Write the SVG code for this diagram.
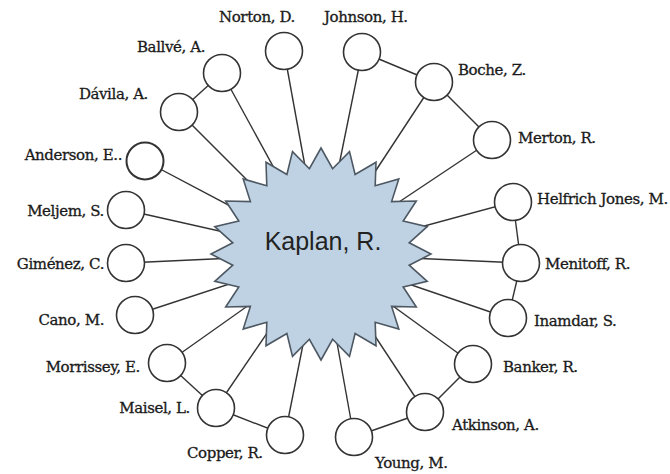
<svg xmlns="http://www.w3.org/2000/svg" width="670" height="474" viewBox="0 0 670 474">
<style>
.ln{stroke:#333333;stroke-width:1.4;fill:none}
.nd{fill:#ffffff;stroke:#333333;stroke-width:1.6}
.star{fill:#bfd2e3;stroke:#4d5863;stroke-width:1.6;stroke-linejoin:miter}
.lb{font-family:"DejaVu Serif","Liberation Serif",serif;font-size:15px;fill:#1a1a1a;stroke:#1a1a1a;stroke-width:0.3px;letter-spacing:-0.4px}
.e{text-anchor:end}
.ct{font-family:"Liberation Sans","DejaVu Sans",sans-serif;font-size:25px;fill:#222222;text-anchor:middle}
</style>
<rect x="0" y="0" width="670" height="474" fill="#ffffff"/>
<g id="connectors">
<line class="ln" x1="284" y1="51" x2="321" y2="254"/>
<line class="ln" x1="362" y1="52" x2="321" y2="254"/>
<line class="ln" x1="434" y1="82" x2="321" y2="254"/>
<line class="ln" x1="492" y1="140" x2="321" y2="254"/>
<line class="ln" x1="513" y1="202" x2="321" y2="254"/>
<line class="ln" x1="521" y1="263" x2="321" y2="254"/>
<line class="ln" x1="508" y1="318" x2="321" y2="254"/>
<line class="ln" x1="473" y1="364" x2="321" y2="254"/>
<line class="ln" x1="425" y1="412" x2="321" y2="254"/>
<line class="ln" x1="354" y1="437" x2="321" y2="254"/>
<line class="ln" x1="285" y1="435" x2="321" y2="254"/>
<line class="ln" x1="216" y1="408" x2="321" y2="254"/>
<line class="ln" x1="167" y1="363" x2="321" y2="254"/>
<line class="ln" x1="135" y1="315" x2="321" y2="254"/>
<line class="ln" x1="126" y1="263" x2="321" y2="254"/>
<line class="ln" x1="126" y1="210" x2="321" y2="254"/>
<line class="ln" x1="145" y1="161" x2="321" y2="254"/>
<line class="ln" x1="179" y1="112" x2="321" y2="254"/>
<line class="ln" x1="222" y1="73" x2="321" y2="254"/>
<line class="ln" x1="222" y1="73" x2="179" y2="112"/>
<line class="ln" x1="362" y1="52" x2="434" y2="82"/>
<line class="ln" x1="434" y1="82" x2="492" y2="140"/>
<line class="ln" x1="513" y1="202" x2="521" y2="263"/>
<line class="ln" x1="521" y1="263" x2="508" y2="318"/>
<line class="ln" x1="167" y1="363" x2="216" y2="408"/>
<line class="ln" x1="216" y1="408" x2="285" y2="435"/>
<line class="ln" x1="354" y1="437" x2="425" y2="412"/>
<line class="ln" x1="425" y1="412" x2="473" y2="364"/>
</g>
<g id="kaplan">
<polygon class="star" points="321,148 332.6,168.7 349.5,151.6 355.1,174.5 376,162.2 375.2,185.8 398.8,179 391.6,201.6 416.3,201 403.2,221.1 427.2,226.6 409.2,242.8 431,254 409.2,265.2 427.2,281.4 403.2,286.9 416.3,307 391.6,306.4 398.8,329 375.2,322.2 376,345.8 355.1,333.5 349.5,356.4 332.6,339.3 321,360 309.4,339.3 292.5,356.4 286.9,333.5 266,345.8 266.8,322.2 243.2,329 250.4,306.4 225.7,307 238.8,286.9 214.8,281.4 232.8,265.2 211,254 232.8,242.8 214.8,226.6 238.8,221.1 225.7,201 250.4,201.6 243.2,179 266.8,185.8 266,162.2 286.9,174.5 292.5,151.6 309.4,168.7"/>
<text class="ct" x="323" y="250">Kaplan, R.</text>
</g>
<g id="norton"><circle class="nd" cx="284" cy="51" r="18.5"/><text class="lb" x="219" y="22">Norton, D.</text></g>
<g id="johnson"><circle class="nd" cx="362" cy="52" r="18.5"/><text class="lb" x="324" y="22">Johnson, H.</text></g>
<g id="boche"><circle class="nd" cx="434" cy="82" r="18.5"/><text class="lb" x="458" y="75">Boche, Z.</text></g>
<g id="merton"><circle class="nd" cx="492" cy="140" r="18.5"/><text class="lb" x="518" y="143">Merton, R.</text></g>
<g id="helfrich"><circle class="nd" cx="513" cy="202" r="18.5"/><text class="lb" x="537" y="204">Helfrich Jones, M.</text></g>
<g id="menitoff"><circle class="nd" cx="521" cy="263" r="18.5"/><text class="lb" x="545" y="269">Menitoff, R.</text></g>
<g id="inamdar"><circle class="nd" cx="508" cy="318" r="18.5"/><text class="lb" x="534" y="326">Inamdar, S.</text></g>
<g id="banker"><circle class="nd" cx="473" cy="364" r="18.5"/><text class="lb" x="503" y="372">Banker, R.</text></g>
<g id="atkinson"><circle class="nd" cx="425" cy="412" r="18.5"/><text class="lb" x="452" y="430">Atkinson, A.</text></g>
<g id="young"><circle class="nd" cx="354" cy="437" r="18.5"/><text class="lb" x="375" y="468">Young, M.</text></g>
<g id="copper"><circle class="nd" cx="285" cy="435" r="18.5"/><text class="lb" x="187" y="458">Copper, R.</text></g>
<g id="maisel"><circle class="nd" cx="216" cy="408" r="18.5"/><text class="lb e" x="190" y="413">Maisel, L.</text></g>
<g id="morrissey"><circle class="nd" cx="167" cy="363" r="18.5"/><text class="lb e" x="140" y="372">Morrissey, E.</text></g>
<g id="cano"><circle class="nd" cx="135" cy="315" r="18.5"/><text class="lb e" x="104" y="325">Cano, M.</text></g>
<g id="gimenez"><circle class="nd" cx="126" cy="263" r="18.5"/><text class="lb e" x="104" y="269">Giménez, C.</text></g>
<g id="meljem"><circle class="nd" cx="126" cy="210" r="18.5"/><text class="lb e" x="104" y="216">Meljem, S.</text></g>
<g id="anderson"><circle class="nd" cx="145" cy="161" r="18.5" style="stroke-width:2"/><text class="lb e" x="122" y="160">Anderson, E..</text></g>
<g id="davila"><circle class="nd" cx="179" cy="112" r="18.5"/><text class="lb e" x="148" y="99">Dávila, A.</text></g>
<g id="ballve"><circle class="nd" cx="222" cy="73" r="18.5"/><text class="lb" x="137" y="52">Ballvé, A.</text></g>
</svg>
